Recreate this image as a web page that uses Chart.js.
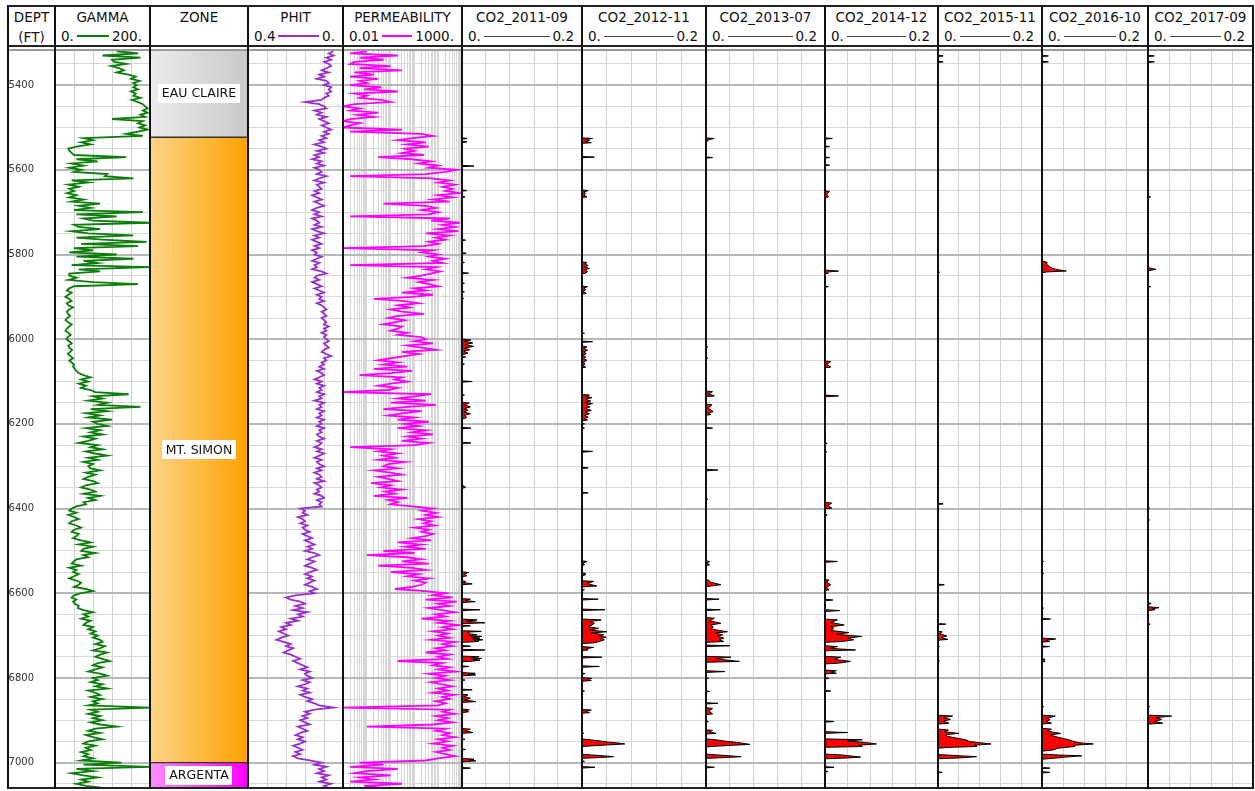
<!DOCTYPE html>
<html>
<head>
<meta charset="utf-8">
<title>Well log with time-lapse CO2 saturation</title>
<script src="https://cdn.jsdelivr.net/npm/chart.js@4.4.1/dist/chart.umd.min.js"></script>
<style>
  html, body { margin: 0; padding: 0; background: #fff; }
  #log { position: relative; width: 1255px; height: 791px; overflow: hidden;
         font-family: "DejaVu Sans", sans-serif; color: #111; }
  #log canvas { position: absolute; }
  .hcell { position: absolute; top: 7px; height: 39px; text-align: center;
           font-size: 13.5px; line-height: 16px; white-space: nowrap; }
  .htitle { position: absolute; left: 0; right: 0; top: 2px; }
  .hsub { position: absolute; left: 0; right: 0; top: 22px; }
  .hscale { position: absolute; left: 5px; right: 7px; top: 21px; display: flex; align-items: center; }
  .hscale .ln { flex: 1; margin: 0 3px; height: 0; }
  .rule { position: absolute; z-index: 3; }
</style>
</head>
<body>
<div id="log"></div>
<script>
// ---- Continuous logs, one reading every 5 ft starting at 5320 ft ----
const SAMPLE_TOP = 5320;
const SAMPLE_STEP = 5;

// Gamma ray (API)
const gamma = [
  130,175,100,180,120,125,150,118,135,145,130,155,170,160,178,165,
  172,165,175,160,170,165,180,162,175,185,190,195,185,195,180,190,120,185,175,190,
  178,195,175,150,185,60,80,55,75,45,28,30,35,40,150,45,90,35,60,30,
  55,40,110,105,165,35,70,28,50,30,40,25,45,30,60,35,95,50,75,40,
  185,45,130,60,80,200,40,50,95,35,70,165,45,100,193,55,175,40,80,30,
  130,45,165,60,90,35,200,50,95,30,30,45,28,80,175,40,30,25,35,28,
  22,30,35,25,28,38,30,25,27,32,26,22,28,35,30,25,22,28,33,27,
  24,30,35,28,30,36,32,27,33,38,30,35,40,38,42,45,50,60,75,55,
  70,50,65,55,75,85,155,80,100,70,110,90,180,75,110,65,95,70,120,80,
  90,110,65,95,75,100,60,85,70,50,90,75,100,65,85,110,70,90,60,80,
  70,75,95,65,85,70,60,80,90,65,55,75,85,60,95,70,85,60,65,45,
  35,30,45,28,40,50,35,30,45,55,40,35,50,45,38,55,75,50,80,60,
  55,85,60,70,45,40,35,55,30,45,38,50,40,30,45,55,50,40,65,80,
  55,40,35,45,38,42,50,48,60,80,60,70,55,75,65,60,80,70,85,75,
  90,80,95,100,85,105,95,80,110,95,85,100,115,90,80,100,85,70,95,110,
  80,90,75,100,85,110,70,85,95,75,100,80,90,70,200,75,90,70,95,80,
  100,75,95,130,85,70,95,65,80,100,70,60,85,65,75,55,70,60,80,55,
  140,60,200,45,80,35,60,90,55,70,45,65,100
];

// Total porosity (v/v)
const phit = [
  .04,.06,.04,.07,.05,.08,.06,.05,.07,.09,.06,.10,.08,.11,.07,.06,
  .08,.05,.06,.05,.07,.06,.08,.09,.16,.10,.08,.07,.12,.09,.11,.07,.10,.08,.06,.09,
  .07,.05,.08,.06,.09,.07,.10,.08,.12,.09,.07,.11,.08,.12,.10,.13,.09,.11,.08,.12,
  .10,.09,.11,.07,.10,.12,.08,.11,.10,.09,.12,.10,.13,.11,.09,.12,.10,.08,.11,.13,
  .10,.12,.09,.13,.11,.10,.12,.09,.13,.11,.08,.12,.10,.13,.11,.09,.12,.10,.13,.11,
  .12,.09,.11,.13,.10,.12,.11,.13,.09,.07,.11,.12,.10,.13,.11,.09,.12,.10,.08,.11,
  .09,.10,.08,.11,.09,.08,.07,.09,.08,.07,.09,.08,.07,.08,.06,.08,.07,.09,.07,.08,
  .07,.06,.08,.07,.06,.08,.09,.07,.05,.08,.07,.09,.08,.10,.08,.11,.09,.08,.10,.12,
  .09,.11,.08,.10,.09,.11,.08,.10,.09,.12,.08,.10,.09,.11,.08,.10,.09,.11,.08,.10,
  .09,.11,.08,.10,.09,.11,.10,.08,.11,.09,.10,.12,.09,.11,.08,.10,.12,.09,.11,.10,
  .08,.11,.09,.12,.10,.09,.11,.08,.12,.10,.09,.11,.10,.12,.09,.08,.11,.09,.10,.09,
  .18,.16,.17,.15,.19,.17,.16,.18,.15,.17,.16,.14,.17,.15,.13,.16,.14,.12,.15,.13,
  .16,.12,.10,.13,.15,.12,.14,.16,.13,.11,.14,.16,.13,.15,.12,.14,.16,.13,.11,.14,
  .12,.20,.24,.22,.18,.16,.20,.17,.21,.15,.19,.17,.22,.19,.24,.22,.26,.24,.27,.25,
  .23,.26,.28,.25,.22,.24,.21,.23,.25,.22,.20,.18,.21,.19,.17,.15,.18,.14,.16,.15,
  .13,.17,.14,.16,.19,.15,.17,.14,.18,.16,.13,.15,.12,.10,.04,.12,.16,.14,.17,.15,
  .18,.16,.14,.19,.17,.15,.18,.20,.17,.19,.16,.18,.21,.19,.17,.20,.18,.21,.19,.14,
  .09,.12,.07,.10,.08,.11,.06,.09,.07,.10,.05,.08,.06
];

// Permeability (mD)
const perm = [
  0.1,0.02,2,0.05,0.5,0.03,0.02,1,0.05,3,0.03,0.2,0.02,0.3,0.05,0.1,
  0.02,0.4,0.08,2,0.03,0.1,0.05,0.4,1,0.03,0.01,0.05,0.02,0.3,0.04,0.2,0.02,0.01,0.05,0.02,
  0.01,3,0.02,20,60,8,2,30,5,40,4,10,3,25,0.3,8,50,15,100,40,
  600,200,30,0.02,50,300,100,500,150,400,200,800,100,400,60,300,0.5,30,80,20,
  100,40,0.02,300,50,800,150,500,100,700,30,300,80,200,40,100,25,0.01,60,20,
  100,40,200,60,150,0.02,80,30,120,50,20,5,60,15,40,100,10,30,3,60,
  8,0.2,4,15,2,6,1,3,25,2,0.8,4,1.5,0.5,3,2,1,5,2,20,
  30,10,60,5,20,80,3,15,4,1,0.3,2,0.5,5,0.2,8,1,0.05,3,1.5,
  5,1,0.3,2,0.8,0.01,50,10,2,30,1,80,5,0.5,20,3,0.8,10,2,40,
  4,15,2,30,8,60,5,20,3,40,10,0.02,1,0.3,2,0.5,1.5,0.3,4,0.8,
  0.5,2,0.2,1,3,0.3,0.8,2,0.15,1,0.4,3,0.6,1.5,0.2,5,0.8,2,1,8,
  60,20,80,30,100,15,50,25,70,10,40,20,60,30,8,50,2,20,4,30,
  0.5,10,0.1,5,20,3,40,0.3,8,30,1,15,5,40,10,30,20,8,1.5,30,
  200,60,400,30,600,100,300,40,150,500,80,200,20,300,100,700,150,400,60,250,
  100,300,50,500,150,400,80,200,30,300,100,250,2,150,60,300,100,500,40,200,
  80,300,50,150,400,100,250,60,500,150,300,80,200,100,0.01,300,150,500,80,250,
  100,400,60,0.1,200,80,300,150,500,100,250,60,400,150,300,80,200,500,100,30,
  0.05,0.5,0.02,2,0.1,0.03,1,0.05,0.2,0.02,3,0.08,0.5
];

// ---- Formation tops (ft) ----
const zoneNames = ['EAU CLAIRE', 'MT. SIMON', 'ARGENTA'];
const zoneTops  = [5317, 5523, 7000];
const zoneBases = [5523, 7000, 7060];

// ---- Depth labels (ft) ----
const depthLabels = [5400, 5600, 5800, 6000, 6200, 6400, 6600, 6800, 7000];

// ---- Time-lapse CO2 saturation, [depth ft, saturation] ----
const co2Surveys = ['CO2_2011-09','CO2_2012-11','CO2_2013-07','CO2_2014-12','CO2_2015-11','CO2_2016-10','CO2_2017-09'];

const co2_2011 = [
  [5317,0],[5524.5,0],[5526,.0085],[5527.5,0],[5532.5,0],[5534,.008],[5535.5,0],
  [5589.5,0],[5591,.02],[5592.5,0],[5647.5,0],[5649,.008],[5650.5,0],[5662.5,0],[5664,.005],[5665.5,0],
  [5764.5,0],[5766,.006],[5767.5,0],[5795.5,0],[5797,.007],[5798.5,0],[5817.5,0],[5819,.004],[5820.5,0],
  [5842.5,0],[5844,.011],[5845.5,0],[5866.5,0],[5868,.004],[5869.5,0],[5886.5,0],[5888,.004],[5889.5,0],
  [5902.5,0],[5904,.003],[5905.5,0],
  [6000,0],[6002,.015],[6005,.004],[6009,.018],[6013,.005],[6017,.02],[6021,.004],[6025,.013],[6029,.003],[6033,.01],[6037,0],
  [6040.5,0],[6042,.006],[6043.5,0],[6057.5,0],[6059,.004],[6060.5,0],[6098.5,0],[6100,.017],[6101.5,0],
  [6130.5,0],[6132,.004],[6133.5,0],
  [6149,0],[6151,.012],[6155,.004],[6160,.014],[6164,.004],[6168,.01],[6172,.003],[6176,.014],[6180,.004],[6185,.008],[6189,0],
  [6208.5,0],[6210,.015],[6211.5,0],[6243.5,0],[6245,.015],[6246.5,0],[6345.5,0],[6347,.004],[6350,.006],[6352.5,0],
  [6549.5,0],[6551,.011],[6555,.004],[6559,.008],[6561,0],[6570.5,0],[6572,.006],[6575,.003],[6578,.017],[6580,0],
  [6612.5,0],[6614,.014],[6617,.005],[6620,.022],[6622,0],[6637.5,0],[6639,.03],[6641,0],
  [6661,0],[6663,.025],[6666,.008],[6670,.038],[6672,0],[6675.5,0],[6677,.014],[6678.5,0],
  [6688.5,0],[6690,.032],[6692,.01],[6696,.012],[6698,.025],[6700,.012],[6702,.033],[6704,.015],[6706,.03],[6708,.018],[6710,.035],[6712,.02],[6714,.028],[6716,0],
  [6723.5,0],[6725,.014],[6726.5,0],[6732.5,0],[6734,.038],[6736,0],
  [6748.5,0],[6750,.028],[6752,.015],[6754,.033],[6756,.018],[6758,.03],[6760,.02],[6762,0],
  [6771.5,0],[6773,.011],[6774.5,0],[6787.5,0],[6789,.022],[6791,.01],[6793,.023],[6795,0],
  [6803.5,0],[6805,.005],[6806.5,0],[6826.5,0],[6828,.017],[6829.5,0],
  [6838.5,0],[6840,.01],[6844,.004],[6848,.014],[6852,.004],[6856,.023],[6858,0],
  [6873.5,0],[6875,.012],[6878,.005],[6880,.011],[6882,0],[6919.5,0],[6921,.014],[6925,.005],[6929,.018],[6931,0],
  [6943.5,0],[6945,.005],[6946.5,0],[6967.5,0],[6969,.006],[6970.5,0],
  [6990,0],[6992,.02],[6994,.012],[6996,.023],[6998,0],[7011.5,0],[7013,.014],[7014.5,0],[7060,0]
];

const co2_2012 = [
  [5317,0],[5524.5,0],[5526,.017],[5528.5,.006],[5531,.012],[5533.5,.005],[5536,.015],[5537.5,0],
  [5568.5,0],[5570,.02],[5571.5,0],
  [5647.5,0],[5649,.01],[5652,.003],[5656,.006],[5660,.003],[5664,.008],[5665.5,0],
  [5817.5,0],[5819,.008],[5822,.004],[5826,.01],[5829,.004],[5833,.012],[5836,.004],[5840,.009],[5844,.006],[5845.5,0],
  [5874.5,0],[5876,.009],[5879,.003],[5883,.006],[5887,.002],[5892,.007],[5893.5,0],
  [5984.5,0],[5986,.004],[5987.5,0],[6004.5,0],[6006,.017],[6007.5,0],
  [6016.5,0],[6018,.008],[6022,.003],[6026,.009],[6030,.003],[6034,.007],[6038,.002],[6042,.006],[6046,.003],[6050,.008],[6054,.002],[6058,.005],[6062,.002],[6066,.006],[6067.5,0],
  [6130.5,0],[6132,.012],[6135,.006],[6138,.016],[6142,.006],[6146,.014],[6149,.005],[6152,.017],[6156,.006],[6160,.013],[6164,.005],[6168,.015],[6172,.005],[6176,.012],[6180,.004],[6184,.01],[6188,.004],[6191,.009],[6192.5,0],
  [6198.5,0],[6200,.004],[6201.5,0],[6208.5,0],[6210,.004],[6211.5,0],
  [6263.5,0],[6265,.017],[6267,0],[6302.5,0],[6304,.01],[6305.5,0],[6361.5,0],[6363,.01],[6364.5,0],
  [6523.5,0],[6525,.008],[6529,.002],[6533,.004],[6534.5,0],[6551.5,0],[6553,.005],[6557,.005],[6558.5,0],
  [6570.5,0],[6572,.019],[6577,.008],[6583,.024],[6585,0],[6590.5,0],[6592,.004],[6593.5,0],
  [6612.5,0],[6614,.026],[6616,0],[6637.5,0],[6639,.037],[6641,0],
  [6661,0],[6663,.031],[6667,.012],[6671,.02],[6675,.016],[6679,.01],[6683,.027],[6687,.012],[6691,.04],[6694,.015],[6698,.035],[6701,.028],[6704,.039],[6707,.03],[6710,.036],[6714,.028],[6717,.02],[6719,0],
  [6726,0],[6728,.019],[6731,.006],[6734,.01],[6735.5,0],[6749.5,0],[6751,.032],[6753,0],
  [6771.5,0],[6773,.028],[6775,0],[6788.5,0],[6790,.005],[6791.5,0],
  [6799.5,0],[6801,.016],[6804,.008],[6806,.015],[6808,0],[6829.5,0],[6831,.004],[6832.5,0],
  [6874.5,0],[6876,.015],[6879,.006],[6882,.012],[6883.5,0],[6929.5,0],[6931,.003],[6932.5,0],
  [6944,0],[6946,.012],[6949,.03],[6952,.045],[6954,.06],[6956,.069],[6958,.045],[6960,.02],[6962,0],
  [6980,0],[6982,.015],[6984,.035],[6986,.051],[6988,.03],[6990,0],
  [6995.5,0],[6997,.004],[6998.5,0],[7009.5,0],[7011,.021],[7013,0],[7060,0]
];

const co2_2013 = [
  [5317,0],[5524.5,0],[5526,.014],[5529,.004],[5532,.003],[5533.5,0],[5569.5,0],[5571,.011],[5572.5,0],
  [6016.5,0],[6018,.003],[6019.5,0],[6043.5,0],[6045,.003],[6046.5,0],
  [6122.5,0],[6124,.011],[6129,.004],[6134,.014],[6135.5,0],
  [6153.5,0],[6155,.01],[6163,.004],[6171,.012],[6175,.004],[6178,.008],[6179.5,0],
  [6208.5,0],[6210,.011],[6211.5,0],[6307.5,0],[6309,.02],[6311,0],[6376.5,0],[6378,.003],[6379.5,0],
  [6523.5,0],[6525,.006],[6529,.002],[6533,.006],[6534.5,0],
  [6567.5,0],[6569,.004],[6574,.008],[6580,.025],[6583,.008],[6584.5,0],
  [6612.5,0],[6614,.022],[6616,0],[6637.5,0],[6639,.024],[6641,0],
  [6657.5,0],[6659,.014],[6665,.006],[6671,.025],[6675,.008],[6679,.012],[6685,.01],[6691,.036],[6694,.015],[6698,.028],[6702,.02],[6706,.03],[6710,.022],[6714,.03],[6716,0],
  [6722.5,0],[6724,.04],[6726,0],
  [6749,0],[6751,.042],[6754,.018],[6757,.03],[6761,.056],[6763,0],[6783,0],[6785,.032],[6787,0],
  [6799.5,0],[6801,.004],[6802.5,0],[6830.5,0],[6832,.006],[6833.5,0],[6858.5,0],[6860,.02],[6861.5,0],
  [6870.5,0],[6872,.011],[6878,.005],[6885,.011],[6886.5,0],[6901.5,0],[6903,.004],[6904.5,0],
  [6922.5,0],[6924,.011],[6927,.005],[6931,.017],[6932.5,0],
  [6944,0],[6946,.015],[6949,.03],[6952,.05],[6955,.065],[6957,.074],[6959,.045],[6961,.02],[6963,0],
  [6980,0],[6982,.02],[6984,.04],[6986,.059],[6988,.035],[6990,0],
  [7009.5,0],[7011,.014],[7012.5,0],[7060,0]
];

const co2_2014 = [
  [5317,0],[5524.5,0],[5526,.013],[5527.5,0],[5543.5,0],[5545,.008],[5546.5,0],
  [5569.5,0],[5571,.008],[5572.5,0],[5587.5,0],[5589,.008],[5590.5,0],
  [5649.5,0],[5651,.008],[5657,.003],[5664,.006],[5665.5,0],
  [5837,0],[5839,.024],[5841.5,.004],[5844,.006],[5845.5,0],[5874.5,0],[5876,.006],[5877.5,0],
  [6051.5,0],[6053,.01],[6059,.003],[6066,.01],[6067.5,0],[6132,0],[6134,.024],[6136,0],
  [6244.5,0],[6246,.004],[6247.5,0],[6264.5,0],[6266,.003],[6267.5,0],
  [6385.5,0],[6387,.012],[6393,.005],[6399,.012],[6400.5,0],[6413.5,0],[6415,.004],[6416.5,0],
  [6523.5,0],[6525,.022],[6527,0],
  [6567.5,0],[6569,.007],[6574,.003],[6580,.01],[6586,.003],[6592,.007],[6593.5,0],
  [6614.5,0],[6616,.014],[6617.5,0],[6639,0],[6641,.026],[6643,0],
  [6661,0],[6663,.022],[6669,.01],[6675,.034],[6679,.01],[6683,.016],[6688,.01],[6693,.042],[6697,.02],[6702,.065],[6706,.04],[6710,.051],[6714,.03],[6716,0],
  [6724,0],[6726,.022],[6730,.008],[6734,.054],[6736,0],
  [6749,0],[6751,.028],[6756,.015],[6761,.045],[6765,.025],[6767,0],
  [6781.5,0],[6783,.02],[6786,.01],[6789,.02],[6790.5,0],[6799.5,0],[6801,.007],[6802.5,0],
  [6829.5,0],[6831,.01],[6832.5,0],[6901.5,0],[6903,.016],[6904.5,0],[6927,0],[6929,.04],[6931,0],
  [6944,0],[6946,.066],[6949,.04],[6953,.075],[6956,.091],[6959,.06],[6962,.066],[6964,0],
  [6980,0],[6982,.03],[6985,.05],[6987,.063],[6989,.04],[6991,0],
  [7009.5,0],[7011,.016],[7012.5,0],[7019.5,0],[7021,.005],[7022.5,0],[7060,0]
];

const co2_2015 = [
  [5317,0],[5329.5,0],[5331,.01],[5332.5,0],[5343.5,0],[5345,.01],[5346.5,0],
  [5840.5,0],[5842,.003],[5843.5,0],[6387.5,0],[6389,.01],[6390.5,0],
  [6578.5,0],[6580,.012],[6581.5,0],[6671.5,0],[6673,.015],[6674.5,0],
  [6689.5,0],[6691,.008],[6696,.004],[6701,.017],[6705,.006],[6709,.019],[6711,0],
  [6724.5,0],[6726,.003],[6727.5,0],[6758.5,0],[6760,.003],[6761.5,0],
  [6888,0],[6890,.028],[6894,.01],[6898,.024],[6902,.01],[6907,.021],[6909,0],
  [6921,0],[6923,.02],[6927,.012],[6931,.04],[6934,.015],[6938,.018],[6942,.035],[6946,.053],[6950,.06],[6953,.08],[6956,.102],[6959,.07],[6962,.075],[6964,.02],[6966,0],
  [6981,0],[6983,.03],[6986,.074],[6989,.04],[6991,0],
  [7021.5,0],[7023,.008],[7024.5,0],[7060,0]
];

const co2_2016 = [
  [5317,0],[5329.5,0],[5331,.012],[5332.5,0],[5343.5,0],[5345,.012],[5346.5,0],
  [5815,0],[5817,.006],[5819,.01],[5823,.008],[5828,.014],[5833,.02],[5836,.03],[5839,.046],[5841,.01],[5843,0],
  [6523.5,0],[6525,.003],[6526.5,0],[6551.5,0],[6553,.003],[6554.5,0],[6633.5,0],[6635,.003],[6636.5,0],
  [6659.5,0],[6661,.016],[6662.5,0],[6706,0],[6708,.026],[6711,.008],[6714,.015],[6715.5,0],
  [6724.5,0],[6726,.014],[6727.5,0],[6754.5,0],[6756,.006],[6759,.003],[6761,.006],[6762.5,0],
  [6866.5,0],[6868,.003],[6869.5,0],
  [6888,0],[6890,.025],[6895,.01],[6899,.015],[6903,.008],[6907,.018],[6909,0],
  [6919,0],[6921,.018],[6926,.01],[6931,.035],[6935,.015],[6940,.03],[6946,.05],[6950,.06],[6953,.07],[6956,.097],[6959,.06],[6962,.062],[6966,.03],[6970,.021],[6973,0],
  [6980,0],[6982,.03],[6984,.075],[6987,.045],[6990,.02],[6992,0],
  [7011.5,0],[7013,.015],[7014.5,0],[7021.5,0],[7023,.015],[7024.5,0],[7060,0]
];

const co2_2017 = [
  [5317,0],[5329.5,0],[5331,.012],[5332.5,0],[5343.5,0],[5345,.012],[5346.5,0],
  [5662.5,0],[5664,.005],[5665.5,0],[5831,0],[5833,.008],[5835,.015],[5837,.006],[5839,0],
  [5874.5,0],[5876,.005],[5877.5,0],[6397.5,0],[6399,.003],[6400.5,0],[6425.5,0],[6427,.003],[6428.5,0],
  [6622.5,0],[6624,.006],[6627,0],[6632,0],[6634,.021],[6637,.008],[6639,.013],[6641,0],
  [6671.5,0],[6673,.004],[6674.5,0],[6866.5,0],[6868,.003],[6869.5,0],
  [6888,0],[6890,.045],[6894,.015],[6898,.026],[6903,.012],[6907,.028],[6909,0],[7060,0]
];

const co2Logs = [co2_2011, co2_2012, co2_2013, co2_2014, co2_2015, co2_2016, co2_2017];

// ---- Layout ----
const DEPTH_MIN = 5317, DEPTH_MAX = 7060;
const EDGES = [8, 55, 150, 248, 343, 462, 582, 706, 825, 938, 1042, 1148, 1253];
const PLOT_TOP = 50, PLOT_H = 738;
const root = document.getElementById('log');

Chart.defaults.font.family = '"DejaVu Sans", sans-serif';

// Depth grid: thin every 50 ft, heavier every 200 ft
const depthGrid = [];
for (let d = 5350; d <= 7050; d += 50) depthGrid.push(d);

function addCanvas(i) {
  const c = document.createElement('canvas');
  const w = EDGES[i + 1] - EDGES[i];
  c.width = w; c.height = PLOT_H;
  c.style.left = EDGES[i] + 'px'; c.style.top = PLOT_TOP + 'px';
  c.style.width = w + 'px'; c.style.height = PLOT_H + 'px';
  root.appendChild(c);
  return c;
}

function depthAxis() {
  return {
    type: 'linear', min: DEPTH_MIN, max: DEPTH_MAX, reverse: true,
    afterBuildTicks: s => { s.ticks = depthGrid.map(v => ({ value: v })); },
    afterFit: s => { s.width = 0; s.paddingTop = 0; s.paddingBottom = 0; },
    ticks: { display: false },
    border: { display: false },
    grid: {
      drawTicks: false,
      color: c => (c.tick && c.tick.value % 200 === 0) ? '#b8b8b8' : '#d9d9d9',
      lineWidth: c => (c.tick && c.tick.value % 200 === 0) ? 2 : 1
    }
  };
}

function valueAxis(type, min, max, lines, reverse, color) {
  return {
    type, min, max, reverse: !!reverse, position: 'bottom',
    afterBuildTicks: s => { s.ticks = lines.map(v => ({ value: v })); },
    afterFit: s => { s.height = 0; s.paddingLeft = 0; s.paddingRight = 0; },
    ticks: { display: false },
    border: { display: false },
    grid: { drawTicks: false, color: color || '#d3d3d3', lineWidth: 1 }
  };
}

function baseOptions(xAxis) {
  return {
    responsive: false, animation: false, devicePixelRatio: 1, events: [],
    indexAxis: 'y',
    layout: { padding: 0 },
    plugins: { legend: { display: false }, tooltip: { enabled: false } },
    elements: { point: { radius: 0 }, line: { tension: 0 } },
    scales: { x: xAxis, y: depthAxis() }
  };
}

function sampled(values) {
  return values.map((v, i) => ({ x: v, y: SAMPLE_TOP + i * SAMPLE_STEP }));
}

// Depth track
new Chart(addCanvas(0), {
  type: 'line',
  data: { datasets: [] },
  options: {
    responsive: false, animation: false, devicePixelRatio: 1, events: [],
    layout: { padding: 0 },
    plugins: { legend: { display: false }, tooltip: { enabled: false } },
    scales: {
      x: { type: 'linear', display: false },
      y: {
        type: 'linear', min: DEPTH_MIN, max: DEPTH_MAX, reverse: true,
        afterBuildTicks: s => { s.ticks = depthLabels.map(v => ({ value: v })); },
        afterFit: s => { s.width = 40; s.paddingTop = 0; s.paddingBottom = 0; },
        border: { display: false },
        grid: { display: false },
        ticks: { padding: 6, color: '#333', font: { size: 10 }, callback: v => String(v) }
      }
    }
  }
});

// Gamma ray
new Chart(addCanvas(1), {
  type: 'line',
  data: { datasets: [{ data: sampled(gamma), borderColor: '#0a7d0a', borderWidth: 1.8 }] },
  options: baseOptions(valueAxis('linear', 0, 200, [40, 80, 120, 160]))
});

// Zones
const zoneLeft  = ['#ebebeb', '#fdd487', '#ff8cff'];
const zoneRight = ['#c9c9c9', '#ffa100', '#ff00ff'];
const zoneLabelPlugin = {
  id: 'zoneLabels',
  afterDatasetsDraw(chart) {
    const ctx = chart.ctx;
    ctx.save();
    ctx.font = '12.5px "DejaVu Sans", sans-serif';
    ctx.textAlign = 'center';
    ctx.textBaseline = 'middle';
    chart.data.datasets.forEach((ds, i) => {
      const bar = chart.getDatasetMeta(i).data[0];
      const cy = (bar.y + bar.base) / 2, cx = bar.x;
      const w = ctx.measureText(ds.label).width + 8, h = 19;
      ctx.fillStyle = '#fff';
      ctx.fillRect(Math.round(cx - w / 2), Math.round(cy - h / 2), Math.round(w), h);
      ctx.fillStyle = '#111';
      ctx.fillText(ds.label, cx, cy + 0.5);
    });
    ctx.restore();
  }
};
new Chart(addCanvas(2), {
  type: 'bar',
  data: {
    labels: ['ZONE'],
    datasets: zoneNames.map((name, i) => ({
      label: name,
      data: [[zoneTops[i], zoneBases[i]]],
      backgroundColor: c => {
        const a = c.chart.chartArea;
        if (!a) return zoneRight[i];
        const g = c.chart.ctx.createLinearGradient(a.left, 0, a.right, 0);
        g.addColorStop(0, zoneLeft[i]);
        g.addColorStop(1, zoneRight[i]);
        return g;
      },
      borderColor: '#333', borderWidth: 1, borderSkipped: false,
      barPercentage: 1, categoryPercentage: 1, grouped: false
    }))
  },
  options: {
    responsive: false, animation: false, devicePixelRatio: 1, events: [],
    layout: { padding: 0 },
    plugins: { legend: { display: false }, tooltip: { enabled: false } },
    scales: {
      x: { display: false },
      y: { type: 'linear', min: DEPTH_MIN, max: DEPTH_MAX, reverse: true, display: false }
    }
  },
  plugins: [zoneLabelPlugin]
});

// Porosity
new Chart(addCanvas(3), {
  type: 'line',
  data: { datasets: [{ data: sampled(phit), borderColor: '#9a2fd0', borderWidth: 1.8 }] },
  options: baseOptions(valueAxis('linear', 0, 0.4, [0.08, 0.16, 0.24, 0.32], true))
});

// Permeability, logarithmic 0.01 - 1000
const permLines = [];
[0.01, 0.1, 1, 10, 100].forEach(dec => { for (let k = 1; k <= 9; k++) permLines.push(dec * k); });
new Chart(addCanvas(4), {
  type: 'line',
  data: { datasets: [{ data: sampled(perm), borderColor: '#ff00ff', borderWidth: 1.8 }] },
  options: baseOptions(valueAxis('logarithmic', 0.01, 1000, permLines.slice(1), false, '#d6d6d6'))
});

// CO2 saturation surveys
co2Logs.forEach((log, k) => {
  new Chart(addCanvas(5 + k), {
    type: 'line',
    data: { datasets: [{
      data: log.map(([d, v]) => ({ x: v, y: d })),
      borderColor: '#000', borderWidth: 1, backgroundColor: '#ff0000', fill: 'origin'
    }] },
    options: baseOptions(valueAxis('linear', 0, 0.2, [0.04, 0.08, 0.12, 0.16]))
  });
});

// ---- Header row ----
const headerSpecs = [
  { title: 'DEPT', sub: '(FT)' },
  { title: 'GAMMA', lo: '0.', hi: '200.', color: '#0a7d0a', w: 2 },
  { title: 'ZONE' },
  { title: 'PHIT', lo: '0.4', hi: '0.', color: '#9a2fd0', w: 2 },
  { title: 'PERMEABILITY', lo: '0.01', hi: '1000.', color: '#ff00ff', w: 2 }
].concat(co2Surveys.map(n => ({ title: n, lo: '0.', hi: '0.2', color: '#444', w: 1 })));

headerSpecs.forEach((h, i) => {
  const cell = document.createElement('div');
  cell.className = 'hcell';
  cell.style.left = (EDGES[i] + 1) + 'px';
  cell.style.width = (EDGES[i + 1] - EDGES[i] - 2) + 'px';
  const t = document.createElement('div');
  t.className = 'htitle';
  t.textContent = h.title;
  cell.appendChild(t);
  if (h.sub) {
    const s = document.createElement('div');
    s.className = 'hsub';
    s.textContent = h.sub;
    cell.appendChild(s);
  }
  if (h.lo) {
    const row = document.createElement('div');
    row.className = 'hscale';
    const lo = document.createElement('span'); lo.textContent = h.lo;
    const ln = document.createElement('span'); ln.className = 'ln';
    ln.style.borderTop = h.w + 'px solid ' + h.color;
    const hi = document.createElement('span'); hi.textContent = h.hi;
    row.appendChild(lo); row.appendChild(ln); row.appendChild(hi);
    cell.appendChild(row);
  }
  root.appendChild(cell);
});

// ---- Frame rules ----
function rule(left, top, width, height, color) {
  const r = document.createElement('div');
  r.className = 'rule';
  Object.assign(r.style, { left: left + 'px', top: top + 'px', width: width + 'px', height: height + 'px', background: color });
  root.appendChild(r);
}
rule(7, 5, 1247, 2, '#222');
rule(7, 45, 1247, 2, '#222');
rule(7, 49, 1247, 2, '#9a9a9a');
rule(7, 787, 1247, 2, '#222');
EDGES.forEach(x => rule(x - 1, 5, 2, 784, '#111'));
</script>
</body>
</html>
